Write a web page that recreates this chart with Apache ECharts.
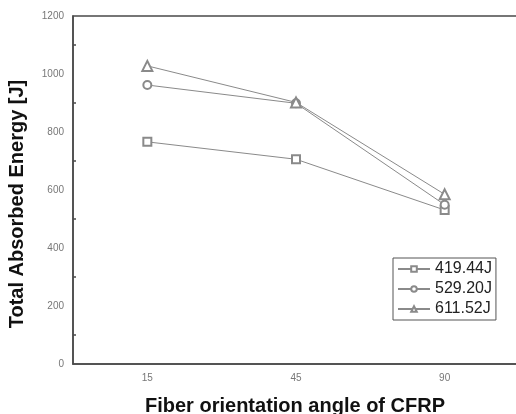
<!DOCTYPE html>
<html>
<head>
<meta charset="utf-8">
<script src="https://cdn.jsdelivr.net/npm/echarts@6/dist/echarts.min.js"></script>
<style>
  html, body { margin: 0; padding: 0; background: #fff; }
  #main { width: 516px; height: 414px; }
</style>
</head>
<body>
<div id="main"></div>
<script>
// fiber angle categories
const angles = ['15', '45', '90']
const seriesNames = ['419.44J', '529.20J', '611.52J']
// absorbed energy [J] per impact energy
const e419 = [766, 706, 531]
const e529 = [962, 899, 549]
const e611 = [1028, 902, 585]
const yTicks = [0, 200, 400, 600, 800, 1000, 1200]

const symbols = ['emptyRect', 'emptyCircle', 'emptyTriangle']
const values = [e419, e529, e611]
const lineGrey = '#8a8a8a'
const axisGrey = '#4a4a4a'

const chart = echarts.init(document.getElementById('main'))

const option = {
    backgroundColor: '#fff',
    animation: false,
    grid: {
        left: 73, top: 16, width: 446, height: 348,
        outerBoundsMode: 'none',
        show: true, borderColor: axisGrey, borderWidth: 1.5,
    },
    xAxis: [
        {
            type: 'category',
            data: angles,
            boundaryGap: true,
            axisLine: { lineStyle: { color: axisGrey, width: 1.5 } },
            axisTick: { alignWithLabel: true, inside: true, length: 6, lineStyle: { color: axisGrey, width: 1.5 } },
            axisLabel: { color: '#777', fontSize: 10, margin: 9, fontFamily: 'Liberation Sans' },
            splitLine: { show: false },
        },
        {
            // boundary ticks between categories
            type: 'category',
            data: angles,
            position: 'bottom',
            boundaryGap: true,
            axisLine: { show: false },
            axisTick: { inside: true, length: 3, lineStyle: { color: axisGrey, width: 1.5 } },
            axisLabel: { show: false },
        },
    ],
    yAxis: {
        type: 'value',
        min: yTicks[0],
        max: yTicks[yTicks.length - 1],
        interval: 200,
        axisLine: { show: true, lineStyle: { color: axisGrey, width: 1.5 } },
        axisTick: { inside: true, length: 5, lineStyle: { color: axisGrey, width: 1.5 } },
        minorTick: { show: true, splitNumber: 2, length: 3, lineStyle: { color: axisGrey, width: 1.5 } },
        axisLabel: { color: '#777', fontSize: 10, margin: 9, fontFamily: 'Liberation Sans', formatter: v => String(v) },
        splitLine: { show: false },
    },
    legend: {
        orient: 'vertical',
        left: 393, top: 258,
        itemWidth: 32, itemHeight: 7, itemGap: 4,
        padding: [3, 4, 3, 4],
        borderColor: '#555', borderWidth: 1, borderRadius: 0,
        textStyle: { color: '#222', fontSize: 16, fontFamily: 'Liberation Sans' },
        data: seriesNames,
    },
    graphic: [
        {
            type: 'text', x: 295, y: 396,
            style: { text: 'Fiber orientation angle of CFRP', fill: '#111', font: 'bold 20px "Liberation Sans"', align: 'center', verticalAlign: 'top' },
        },
        {
            type: 'text', x: 7, y: 204, rotation: Math.PI / 2,
            style: { text: 'Total Absorbed Energy [J]', fill: '#111', font: 'bold 20px "Liberation Sans"', align: 'center', verticalAlign: 'top' },
        },
    ],
    series: seriesNames.map((name, i) => ({
        name: name,
        type: 'line',
        data: values[i],
        symbol: symbols[i],
        symbolSize: i === 2 ? 10 : 8,
        lineStyle: { color: lineGrey, width: 1 },
        itemStyle: { color: lineGrey, borderColor: '#777', borderWidth: 1 },
    })),
}

chart.setOption(option)
</script>
</body>
</html>
